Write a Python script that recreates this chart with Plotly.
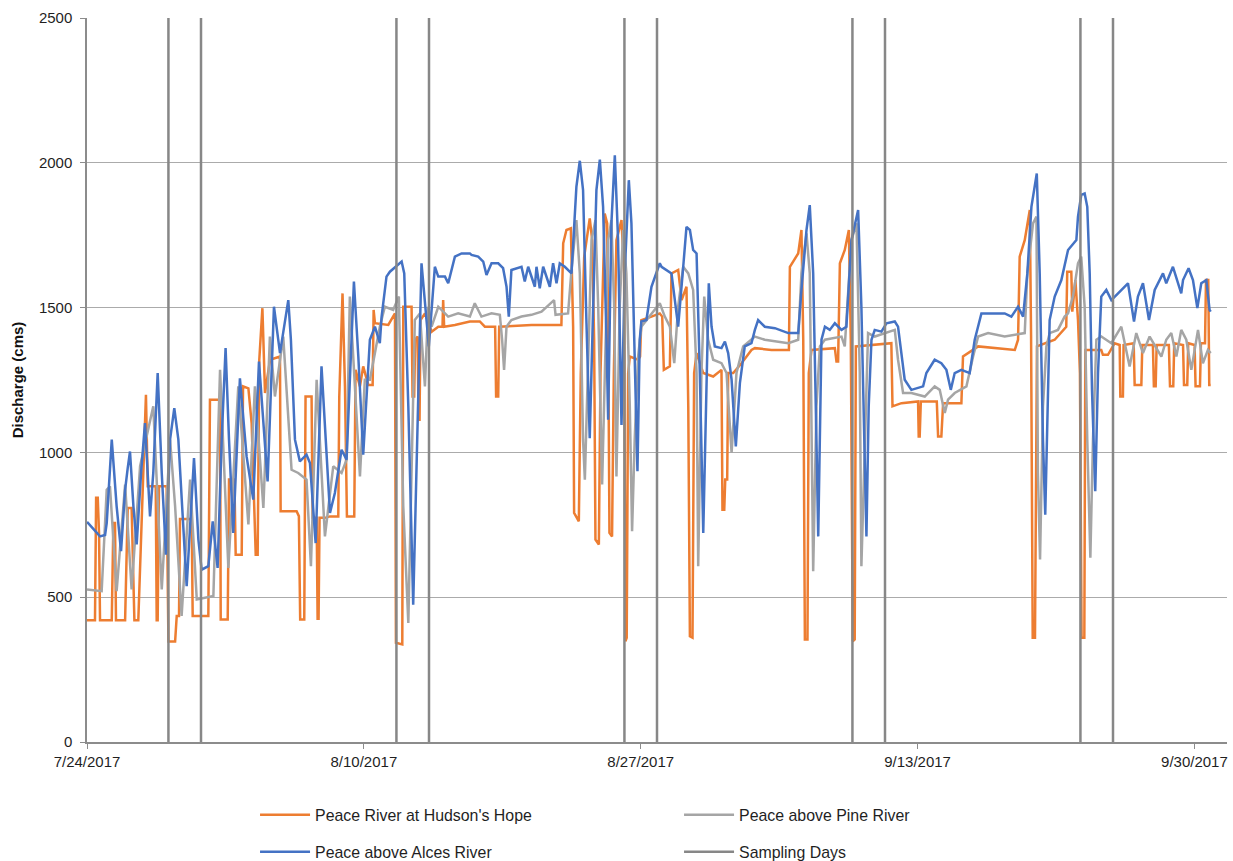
import pandas as pd
import plotly.graph_objects as go

# ---------------- data (day offset from 7/24/2017, discharge in cms) ----------------
start_date = "2017-07-24"

hudson_day = [0.0, 0.49, 0.56, 0.66, 0.74, 0.80, 1.52, 1.62, 1.72, 1.78, 2.34, 2.38, 2.50, 2.74, 2.91, 3.15,
              3.26, 3.46, 3.62, 3.73, 4.22, 4.28, 4.34, 4.42, 4.89, 5.00, 5.41, 5.51, 5.65, 5.71, 6.43, 6.49,
              7.45, 7.55, 8.17, 8.21, 8.64, 8.72, 9.05, 9.13, 9.50, 9.58, 9.91, 10.11, 10.36, 10.48, 10.58,
              10.77, 10.93, 11.24, 11.85, 11.89, 12.87, 13.01, 13.09, 13.34, 13.42, 13.79, 13.85, 14.10,
              14.16, 14.22, 14.28, 14.61, 14.92, 15.43, 15.49, 15.69, 15.84, 15.96, 16.41, 16.49, 16.76,
              16.96, 17.27, 17.54, 17.60, 17.68, 18.50, 18.91, 18.97, 19.36, 19.42, 19.93, 19.99, 20.09,
              20.15, 20.30, 20.36, 20.42, 20.48, 20.75, 21.16, 21.57, 21.83, 21.87, 21.93, 22.59, 23.51,
              24.12, 24.43, 25.06, 25.12, 25.25, 25.31, 27.29, 29.13, 29.24, 29.44, 29.71, 29.85, 29.91,
              30.20, 30.32, 30.53, 30.87, 31.02, 31.14, 31.22, 31.43, 31.53, 31.79, 31.94, 32.02, 32.08,
              32.24, 32.35, 32.51, 32.82, 32.98, 33.06, 33.14, 33.23, 33.33, 33.84, 33.96, 34.04, 34.66,
              35.17, 35.32, 35.42, 35.79, 35.89, 36.30, 36.51, 36.81, 36.92, 37.02, 37.18, 37.28, 37.43,
              37.84, 38.45, 38.96, 39.02, 39.13, 39.19, 39.31, 39.37, 39.68, 40.19, 40.80, 41.01, 42.03,
              43.10, 43.16, 43.67, 43.87, 43.98, 44.08, 44.24, 44.32, 44.49, 45.92, 46.02, 46.12, 46.23,
              46.53, 46.78, 46.90, 47.02, 47.14, 47.21, 49.39, 49.46, 50.01, 51.03, 51.07, 51.13, 51.20,
              52.18, 52.26, 52.46, 52.57, 53.69, 53.79, 54.10, 54.61, 54.72, 56.97, 57.17, 57.27, 57.58,
              57.89, 57.97, 58.07, 58.21, 58.33, 59.42, 60.13, 60.19, 60.44, 60.50, 60.69, 60.85, 60.97,
              61.07, 61.24, 61.30, 62.28, 62.38, 62.69, 63.10, 63.41, 63.45, 63.61, 63.65, 64.27, 64.33,
              64.74, 64.80, 65.45, 65.51, 65.62, 65.68, 66.43, 66.50, 66.70, 66.76, 67.30, 67.36, 67.56,
              67.62, 68.01, 68.07, 68.34, 68.40, 68.65, 68.71, 68.85, 68.91, 69.00]
hudson_cms = [420, 420, 843, 843, 720, 420, 420, 756, 756, 420, 420, 515, 808, 808, 420, 420,
              600, 923, 1199, 883, 883, 420, 420, 883, 883, 347, 347, 435, 435, 770, 770, 435,
              435, 1182, 1182, 423, 423, 906, 906, 647, 647, 1228, 1221, 1100, 647, 647, 1320,
              1498, 1205, 1320, 1331, 797, 797, 780, 423, 423, 1193, 1193, 774, 774,
              426, 426, 774, 774, 779, 779, 1193, 1549, 1228, 779, 779, 1285, 1228,
              1297, 1233, 1233, 1492, 1446, 1440, 1480, 343, 337, 1503, 1503, 1193, 1193,
              1389, 1400, 1113, 1113, 1457, 1480, 1417, 1434, 1434, 1526, 1434, 1440, 1452,
              1452, 1434, 1434, 1193, 1193, 1434, 1440, 1440, 1722, 1768, 1774, 1434, 791,
              762, 1274, 1676, 1808, 1733, 1389, 699, 682, 1274, 1825, 1791, 1274, 722,
              710, 1274, 1733, 1802, 1618, 348, 360, 1274, 1331, 1320, 1331, 1457, 1469,
              1480, 1469, 1285, 1297, 1618, 1630, 1526, 1572, 1159, 365, 360, 1274, 1343,
              1274, 1262, 1285, 802, 802, 906, 906, 1274, 1274, 1308, 1354, 1360, 1354,
              1354, 1641, 1687, 1768, 1389, 354, 354, 1274, 1354, 1360, 1314, 1314, 1653,
              1699, 1768, 1389, 348, 354, 1366, 1377, 1159, 1170, 1176, 1055, 1055, 1176,
              1176, 1055, 1055, 1170, 1170, 1331, 1343, 1360, 1366, 1354, 1389, 1676, 1733,
              1837, 1400, 360, 360, 1366, 1389, 1434, 1624, 1624, 1486, 1595, 1457, 1274,
              360, 360, 1354, 1354, 1337, 1337, 1377, 1371, 1193, 1193, 1371, 1377, 1233,
              1233, 1371, 1371, 1228, 1228, 1371, 1371, 1228, 1228, 1377, 1371, 1233, 1233,
              1377, 1371, 1228, 1228, 1377, 1377, 1595, 1595, 1233, 1233]

pine_day = [0.0, 0.90, 1.21, 1.41, 1.82, 2.34, 2.74, 3.26, 4.07, 4.59, 5.10, 5.41, 5.81, 6.33, 6.74, 7.76,
            8.17, 8.68, 9.29, 9.91, 10.31, 10.83, 11.23, 11.54, 12.05, 12.56, 12.97, 13.48, 13.75, 14.10,
            14.61, 15.12, 15.63, 15.94, 16.14, 16.76, 17.06, 17.37, 17.68, 17.98, 18.29, 18.80, 19.15,
            19.42, 19.73, 20.13, 20.44, 20.75, 20.95, 21.16, 21.57, 22.18, 22.79, 23.51, 23.81, 24.22,
            24.84, 25.35, 25.49, 25.61, 25.76, 26.06, 26.68, 27.29, 27.91, 28.68, 28.77, 29.54, 29.75,
            30.05, 30.26, 30.46, 30.57, 30.77, 30.98, 31.22, 31.39, 31.63, 31.79, 32.00, 32.20, 32.37,
            32.51, 32.71, 32.92, 33.12, 33.33, 33.47, 33.63, 33.84, 34.04, 34.66, 35.17, 35.48, 35.79,
            36.06, 36.30, 36.61, 36.92, 37.22, 37.43, 37.53, 37.73, 37.90, 38.14, 38.45, 38.96, 39.27,
            39.58, 39.88, 40.29, 41.01, 41.62, 43.06, 43.67, 43.87, 44.18, 44.38, 44.59, 44.79, 45.00,
            45.31, 46.33, 46.53, 46.94, 47.25, 47.45, 47.55, 47.76, 47.96, 48.37, 48.99, 49.60, 49.80,
            50.11, 50.62, 51.44, 52.05, 52.36, 52.67, 52.87, 53.28, 54.00, 54.41, 54.72, 55.33, 56.35,
            57.58, 57.74, 58.09, 58.30, 58.39, 58.52, 58.70, 58.91, 59.11, 59.62, 60.03, 60.24, 60.54,
            60.85, 61.05, 61.26, 61.42, 61.61, 61.77, 61.98, 62.28, 62.90, 63.51, 64.02, 64.43, 64.84,
            65.25, 65.97, 66.27, 66.58, 66.89, 67.19, 67.50, 67.81, 68.22, 68.52, 68.83, 69.00]
pine_cms = [527, 521, 871, 883, 521, 889, 527, 952, 1159, 527, 1044, 814, 435, 906, 492, 504,
            1285, 601, 1228, 751, 1228, 808, 1400, 1193, 1400, 940, 929, 906, 607, 1251,
            710, 952, 929, 975, 1538, 917, 1251, 1251, 1343, 1434, 1503, 1492, 1538,
            814, 411, 1457, 1480, 1228, 1503, 1434, 1503, 1469, 1480, 1469, 1515, 1469,
            1480, 1475, 1389, 1285, 1434, 1457, 1469, 1475, 1486, 1526, 1475, 1480, 1630,
            1802, 1618, 1044, 906, 1274, 1733, 1802, 1503, 889, 1274, 1733, 1802, 1503,
            917, 1503, 1768, 1618, 1159, 728, 1044, 1331, 1434, 1480, 1515, 1469, 1434,
            1308, 1503, 1641, 1618, 1561, 1274, 607, 1274, 1538, 1389, 1320, 1308, 1274,
            998, 1274, 1366, 1400, 1389, 1377, 1389, 1618, 1756, 1618, 590, 1159, 1366,
            1389, 1400, 1366, 1733, 1791, 1274, 607, 1044, 1412, 1400, 1412, 1423, 1320,
            1205, 1205, 1193, 1228, 1216, 1136, 1182, 1205, 1228, 1331, 1400, 1412, 1400,
            1412, 1618, 1791, 1814, 929, 630, 1159, 1366, 1412, 1423, 1469, 1480, 1538,
            1653, 1676, 1503, 1044, 636, 1044, 1389, 1400, 1377, 1434, 1297, 1412, 1343,
            1400, 1331, 1389, 1412, 1331, 1423, 1389, 1285, 1423, 1308, 1354, 1343]

alces_day = [0.0, 0.80, 1.11, 1.21, 1.52, 1.82, 2.09, 2.34, 2.50, 2.64, 2.85, 3.05, 3.32, 3.56, 3.87, 4.07,
             4.34, 4.59, 4.85, 5.10, 5.36, 5.61, 6.12, 6.57, 6.84, 7.04, 7.45, 7.72, 8.02, 8.27, 8.51,
             8.72, 8.98, 9.39, 9.80, 10.21, 10.56, 10.83, 11.09, 11.48, 11.85, 12.36, 12.52, 12.77, 13.07,
             13.48, 13.69, 14.04, 14.40, 14.92, 15.22, 15.63, 15.94, 16.39, 16.66, 16.96, 17.37, 17.68,
             17.98, 18.09, 18.39, 18.60, 19.11, 19.32, 19.48, 19.73, 20.03, 20.30, 20.54, 20.99, 21.36,
             21.57, 21.98, 22.18, 22.59, 23.00, 23.51, 23.61, 24.02, 24.33, 24.53, 24.84, 25.25, 25.55,
             25.76, 25.90, 26.06, 26.68, 26.88, 27.09, 27.50, 27.60, 27.80, 28.01, 28.42, 28.62, 28.83,
             29.03, 29.34, 29.75, 29.85, 30.05, 30.26, 30.46, 30.67, 30.87, 31.08, 31.28, 31.49, 31.69,
             31.90, 32.00, 32.20, 32.41, 32.61, 32.82, 33.02, 33.27, 33.43, 33.63, 33.80, 33.94, 34.04,
             34.35, 34.66, 35.17, 35.28, 35.89, 36.10, 36.30, 36.61, 36.81, 37.02, 37.22, 37.43, 37.63,
             37.84, 38.04, 38.18, 38.35, 38.55, 38.96, 39.17, 39.37, 39.58, 39.84, 40.09, 40.39, 40.80,
             41.01, 41.21, 41.62, 42.24, 43.06, 43.67, 43.87, 44.18, 44.38, 44.59, 44.79, 44.90, 45.10,
             45.31, 45.61, 45.92, 46.33, 46.63, 46.94, 47.35, 47.55, 47.72, 47.86, 48.00, 48.17, 48.37,
             48.78, 49.09, 49.60, 49.80, 50.01, 50.21, 50.62, 51.34, 51.54, 52.05, 52.46, 52.77, 53.04,
             53.28, 53.69, 54.20, 54.51, 54.92, 55.74, 56.35, 56.76, 57.17, 57.48, 57.74, 57.99, 58.32,
             58.50, 58.70, 58.84, 59.01, 59.11, 59.42, 59.83, 60.24, 60.75, 60.85, 61.05, 61.26, 61.42,
             61.57, 61.71, 61.91, 62.08, 62.28, 62.59, 62.90, 63.31, 63.92, 64.29, 64.53, 64.84, 65.21,
             65.56, 66.07, 66.27, 66.68, 67.19, 67.30, 67.64, 67.91, 68.18, 68.42, 68.73, 68.93, 69.00]
alces_cms = [760, 710, 715, 756, 1044, 814, 659, 871, 946, 1003, 814, 682, 929, 1101, 779, 929,
             1274, 929, 647, 1044, 1153, 1044, 538, 980, 699, 595, 607, 762, 601, 1044, 1360,
             1044, 722, 1256, 986, 837, 1314, 1101, 900, 1503, 1343, 1526, 1389, 1044, 969,
             992, 963, 687, 1297, 791, 860, 1009, 975, 1590, 1331, 992, 1389, 1434,
             1377, 1469, 1607, 1624, 1647, 1659, 1618, 1159, 474, 1159, 1653, 1366, 1641,
             1607, 1607, 1584, 1676, 1687, 1687, 1682, 1676, 1659, 1613, 1653, 1653, 1636,
             1572, 1469, 1630, 1641, 1590, 1641, 1572, 1641, 1567, 1641, 1572, 1653, 1584,
             1653, 1641, 1618, 1733, 1917, 2007, 1906, 1446, 1049, 1503, 1906, 2011, 1848,
             1389, 1113, 1791, 2026, 1733, 1095, 1618, 1940, 1791, 1274, 935, 1389, 1452,
             1457, 1572, 1653, 1641, 1618, 1526, 1434, 1641, 1779, 1768, 1699, 1687, 1274,
             722, 1274, 1584, 1434, 1366, 1360, 1383, 1343, 1251, 1021, 1239, 1366, 1377,
             1423, 1457, 1434, 1429, 1412, 1412, 1561, 1768, 1854, 1618, 1044, 710, 1389,
             1434, 1423, 1446, 1423, 1434, 1733, 1837, 1503, 1044, 710, 1159, 1389, 1423,
             1417, 1446, 1452, 1434, 1343, 1251, 1216, 1228, 1274, 1320, 1308, 1285, 1216,
             1274, 1285, 1274, 1389, 1480, 1480, 1480, 1469, 1503, 1469, 1618, 1848, 1963,
             1618, 1044, 785, 1274, 1457, 1538, 1595, 1699, 1733, 1814, 1889, 1894, 1848,
             1618, 1216, 866, 1274, 1538, 1561, 1526, 1549, 1584, 1452, 1538, 1584, 1457,
             1561, 1618, 1584, 1641, 1549, 1595, 1636, 1595, 1498, 1584, 1595, 1492, 1486]

sampling_day = [5, 7, 19, 21, 33, 35, 47, 49, 61, 63]
y_limits = [0, 2500]
y_ticks = [0, 500, 1000, 1500, 2000, 2500]
tick_days = [0, 17, 34, 51, 68]
tick_text = ["7/24/2017", "8/10/2017", "8/27/2017", "9/13/2017", "9/30/2017"]
axis_end_day = 70

# ---------------- build ----------------
base = pd.Timestamp(start_date)


def to_dates(days):
    return [base + pd.Timedelta(days=float(d)) for d in days]


FONT = "Liberation Sans, Arial, sans-serif"
TXT = "#1F1F1F"

fig = go.Figure()
fig.add_trace(go.Scatter(x=to_dates(hudson_day), y=hudson_cms, mode="lines",
                         name="Peace River at Hudson's Hope",
                         line=dict(color="#ED7D31", width=2.5), legend="legend"))
fig.add_trace(go.Scatter(x=to_dates(pine_day), y=pine_cms, mode="lines",
                         name="Peace above Pine River",
                         line=dict(color="#A5A5A5", width=2.5), legend="legend"))
fig.add_trace(go.Scatter(x=to_dates(alces_day), y=alces_cms, mode="lines",
                         name="Peace above Alces River",
                         line=dict(color="#4472C4", width=2.5), legend="legend2"))

sx, sy = [], []
for d in sampling_day:
    t = base + pd.Timedelta(days=d)
    sx += [t, t, None]
    sy += [y_limits[0], y_limits[1], None]
fig.add_trace(go.Scatter(x=sx, y=sy, mode="lines", name="Sampling Days",
                         line=dict(color="#878787", width=2.5), legend="legend2"))

legend_common = dict(orientation="h", xanchor="left", yanchor="middle", yref="container",
                     font=dict(family=FONT, size=15.9, color=TXT),
                     entrywidth=359, entrywidthmode="pixels",
                     bgcolor="rgba(0,0,0,0)", itemwidth=50)

fig.update_layout(
    width=1233, height=861,
    margin=dict(l=87, r=6, t=18, b=119),
    paper_bgcolor="white", plot_bgcolor="white",
    font=dict(family=FONT, size=15, color=TXT),
    showlegend=True,
    legend=dict(x=0.1474, y=1 - 815 / 861, **legend_common),
    legend2=dict(x=0.1474, y=1 - 852 / 861, **legend_common),
    xaxis=dict(
        type="date",
        range=[base, base + pd.Timedelta(days=axis_end_day)],
        tickvals=to_dates(tick_days), ticktext=tick_text,
        showgrid=False, zeroline=False,
        showline=True, linecolor="#8C8C8C", linewidth=1.5,
        ticks="outside", ticklen=5, tickcolor="#8C8C8C", tickwidth=1,
        tickfont=dict(family=FONT, size=15, color=TXT),
    ),
    yaxis=dict(
        range=y_limits, tickvals=y_ticks,
        showgrid=True, gridcolor="#ABABAB", gridwidth=1.3,
        zeroline=False, showline=True, linecolor="#8C8C8C", linewidth=1.5,
        ticks="outside", ticklen=5, tickcolor="#8C8C8C", tickwidth=1,
        ticklabelstandoff=5,
        tickfont=dict(family=FONT, size=15, color=TXT),
        title=dict(text="<b>Discharge (cms)</b>", standoff=12,
                   font=dict(family=FONT, size=15, color="#111111")),
    ),
)

fig.write_html("out.html",
               config={"displayModeBar": False},
               post_script="document.body.style.margin='0px';document.body.style.overflow='hidden';")
